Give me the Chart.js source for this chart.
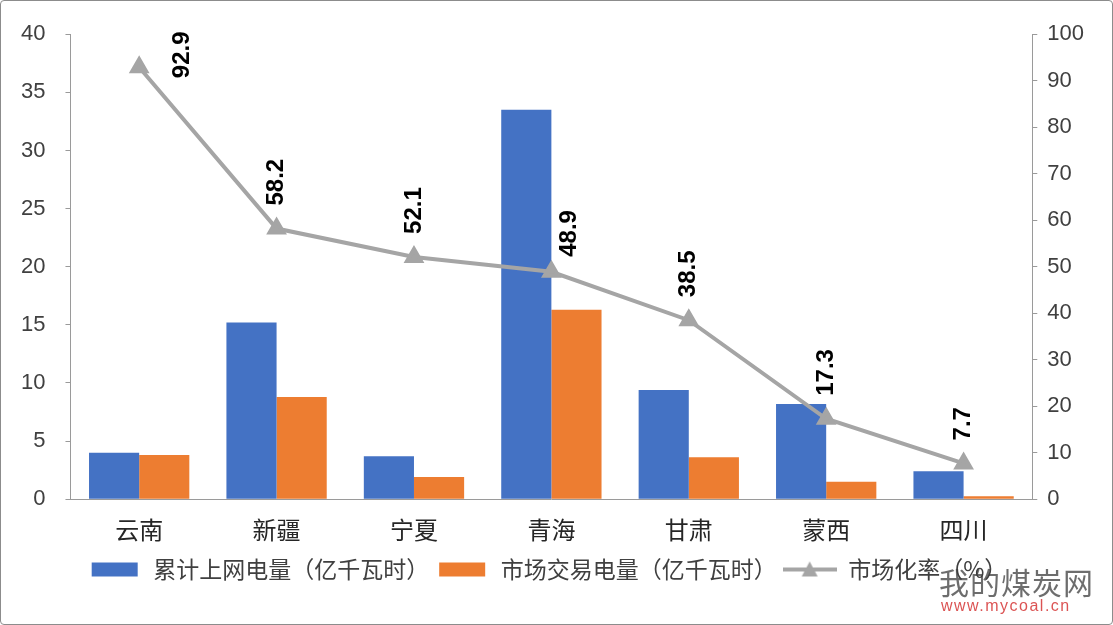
<!DOCTYPE html>
<html>
<head>
<meta charset="utf-8">
<script src="https://cdn.jsdelivr.net/npm/chart.js@4.4.1/dist/chart.umd.min.js"></script>
<style>
  body { margin: 0; background: #fff; }
  #wrap { position: relative; width: 1111px; height: 623px; border: 1px solid #8c8c8c; border-radius: 4px; overflow: hidden; }
  #mark { position: absolute; left: 938px; top: 560px; font-family: "Noto Sans CJK SC", sans-serif; color: rgba(60,60,60,0.75); }
  #mark .cn { font-size: 30px; letter-spacing: 1px; line-height: 40px; }
  #mark .en { font-size: 16px; color: rgba(210,40,40,0.8); margin-left: 2px; margin-top: -4px; font-family: "Liberation Sans", sans-serif; letter-spacing: 1.5px; }
</style>
</head>
<body>
<div id="wrap">
  <canvas id="chart" width="1111" height="623"></canvas>
  <div id="mark"><div class="cn">我的煤炭网</div><div class="en">www.mycoal.cn</div></div>
</div>
<script>
// data
const provinces = ["云南", "新疆", "宁夏", "青海", "甘肃", "蒙西", "四川"];
const gridPower = [4.0, 15.2, 3.7, 33.5, 9.4, 8.2, 2.4];     // 累计上网电量
const marketPower = [3.8, 8.8, 1.9, 16.3, 3.6, 1.5, 0.25];   // 市场交易电量
const marketRate = [92.9, 58.2, 52.1, 48.9, 38.5, 17.3, 7.7]; // 市场化率 %
const leftTicks = [0, 5, 10, 15, 20, 25, 30, 35, 40];
const rightTicks = [0, 10, 20, 30, 40, 50, 60, 70, 80, 90, 100];

const BLUE = "#4472C4", ORANGE = "#ED7D31", GREY = "#A5A5A5";
const numFont = '"Liberation Sans", "Noto Sans CJK SC", sans-serif';
const cjkFont = '"Noto Sans CJK SC", "Liberation Sans", sans-serif';

// little legend swatches
function swatch(kind, color) {
  const c = document.createElement("canvas");
  c.width = 54; c.height = 18;
  const g = c.getContext("2d");
  g.fillStyle = color;
  g.strokeStyle = color;
  if (kind === "box") {
    g.fillRect(4, 2, 46, 14);
  } else {
    g.lineWidth = 4;
    g.beginPath(); g.moveTo(0, 9); g.lineTo(54, 9); g.stroke();
    g.beginPath(); g.moveTo(27, 1); g.lineTo(35, 16); g.lineTo(19, 16); g.closePath(); g.fill();
  }
  return c;
}

// rotated value labels over the line points
const labelShift = { 0: [43, 11], 3: [18, -15] };
const rateLabels = {
  id: "rateLabels",
  afterDatasetsDraw(chart) {
    const ctx = chart.ctx;
    const meta = chart.getDatasetMeta(2);
    ctx.save();
    ctx.font = "bold 24px " + numFont;
    ctx.fillStyle = "#000";
    ctx.textAlign = "left";
    ctx.textBaseline = "middle";
    meta.data.forEach((pt, i) => {
      const s = labelShift[i] || [0, -23];
      ctx.save();
      ctx.translate(pt.x + s[0], pt.y + s[1]);
      ctx.rotate(-Math.PI / 2);
      ctx.fillText(marketRate[i].toFixed(1), 0, 0);
      ctx.restore();
    });
    ctx.restore();
  }
};

new Chart(document.getElementById("chart"), {
  type: "bar",
  data: {
    labels: provinces,
    datasets: [
      {
        label: "累计上网电量（亿千瓦时）",
        data: gridPower,
        backgroundColor: BLUE,
        yAxisID: "y",
        order: 2,
        categoryPercentage: 0.73,
        barPercentage: 1.0
      },
      {
        label: "市场交易电量（亿千瓦时）",
        data: marketPower,
        backgroundColor: ORANGE,
        yAxisID: "y",
        order: 2,
        categoryPercentage: 0.73,
        barPercentage: 1.0
      },
      {
        type: "line",
        label: "市场化率（%）",
        data: marketRate,
        borderColor: GREY,
        backgroundColor: GREY,
        borderWidth: 4,
        pointStyle: "triangle",
        pointRadius: 8,
        pointHoverRadius: 8,
        tension: 0,
        yAxisID: "y1",
        order: 1
      }
    ]
  },
  options: {
    responsive: false,
    animation: false,
    devicePixelRatio: 1,
    layout: { padding: { left: 0, right: 18, top: 19, bottom: 33 } },
    plugins: {
      tooltip: { enabled: false },
      legend: {
        position: "bottom",
        labels: {
          usePointStyle: true,
          pointStyleWidth: 54,
          boxHeight: 14,
          padding: 6,
          color: "#404040",
          font: { family: cjkFont, size: 23 },
          generateLabels(chart) {
            const kinds = [["box", BLUE], ["box", ORANGE], ["line", GREY]];
            return chart.data.datasets.map((ds, i) => ({
              text: ds.label,
              pointStyle: swatch(kinds[i][0], kinds[i][1]),
              fillStyle: kinds[i][1],
              strokeStyle: kinds[i][1],
              lineWidth: 0,
              datasetIndex: i,
              fontColor: "#404040"
            }));
          }
        }
      }
    },
    scales: {
      x: {
        grid: { display: false },
        border: { color: "#9a9a9a", width: 1 },
        ticks: { color: "#262626", padding: 8, font: { family: cjkFont, size: 24 } }
      },
      y: {
        position: "left",
        min: 0,
        max: 40,
        afterBuildTicks(axis) { axis.ticks = leftTicks.map(v => ({ value: v })); },
        grid: { drawOnChartArea: false, tickLength: 5, color: "#9a9a9a" },
        border: { color: "#9a9a9a", width: 1 },
        ticks: { color: "#404040", padding: 20, font: { family: numFont, size: 22 } }
      },
      y1: {
        position: "right",
        min: 0,
        max: 100,
        afterBuildTicks(axis) { axis.ticks = rightTicks.map(v => ({ value: v })); },
        grid: { drawOnChartArea: false, tickLength: 5, color: "#9a9a9a" },
        border: { color: "#9a9a9a", width: 1 },
        ticks: { color: "#404040", padding: 10, font: { family: numFont, size: 22 } }
      }
    }
  },
  plugins: [rateLabels]
});
</script>
</body>
</html>
